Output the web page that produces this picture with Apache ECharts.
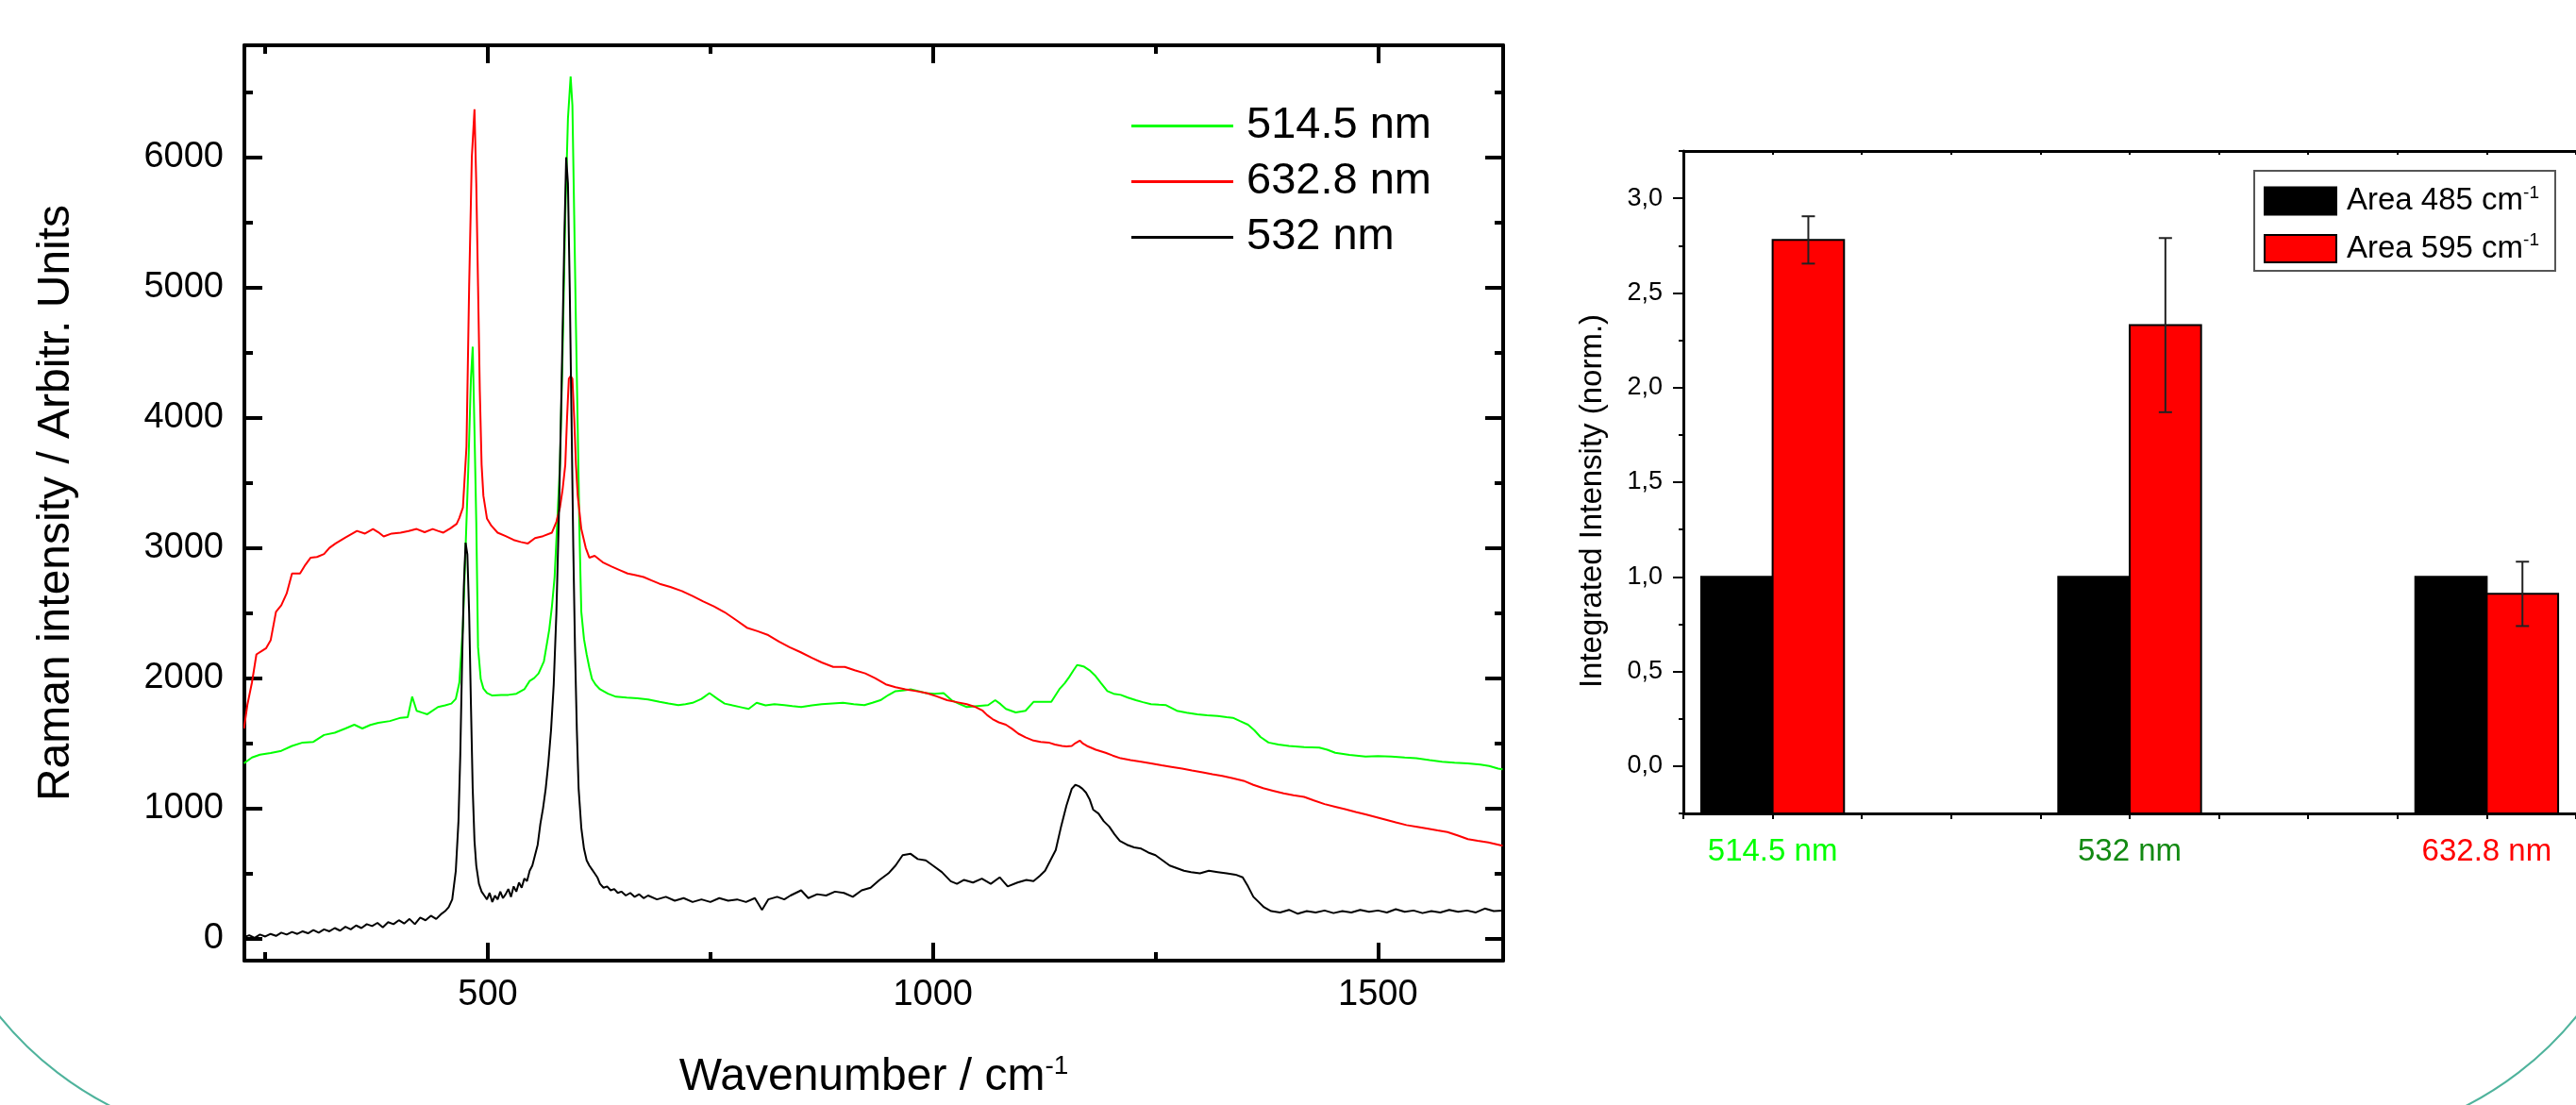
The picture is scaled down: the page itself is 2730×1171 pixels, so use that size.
<!DOCTYPE html>
<html>
<head>
<meta charset="utf-8">
<title>Raman spectra</title>
<script src="https://cdn.jsdelivr.net/npm/echarts@6.0.0/dist/echarts.min.js"></script>
<style>
  html, body { margin: 0; padding: 0; background: #fff; }
  #main { width: 2730px; height: 1171px; }
</style>
</head>
<body>
<div id="main"></div>
<script>
// ---- spectra: [wavenumber, intensity] ----
const spec514 = [
  [226,1345],[235,1390],[244,1412],[256,1425],[268,1441],[280,1479],[292,1505],[304,1510],[316,1563],[328,1580],
  [340,1613],[350,1642],[359,1613],[368,1640],[377,1656],[390,1670],[402,1695],[410,1700],[415,1857],[420,1749],
  [426,1735],[432,1722],[444,1778],[452,1790],[459,1804],[464,1840],[468,1966],[472,2400],[475,3000],[478,3600],
  [481,4300],[483,4545],[485,3900],[487,3200],[489,2237],[492,1993],[495,1920],[499,1885],[505,1866],[515,1870],
  [523,1871],[532,1880],[541,1914],[547,1978],[552,2000],[557,2036],[563,2129],[566,2250],[569,2373],[572,2550],
  [575,2776],[578,3200],[581,3638],[584,4500],[587,5558],[590,6300],[593,6620],[595,6400],[597,5558],[599,4700],
  [601,3914],[603,3100],[605,2509],[608,2300],[611,2182],[614,2080],[617,1993],[621,1950],[626,1914],[635,1880],
  [644,1857],[656,1850],[668,1844],[680,1835],[693,1817],[703,1805],[714,1792],[722,1800],[730,1810],[740,1840],
  [749,1885],[758,1840],[766,1804],[775,1790],[785,1775],[793,1763],[802,1810],[812,1790],[822,1800],[833,1792],
  [842,1785],[852,1778],[864,1790],[875,1800],[887,1805],[899,1810],[911,1800],[923,1792],[932,1810],[941,1830],
  [950,1870],[958,1900],[966,1905],[975,1914],[984,1900],[992,1885],[1002,1880],[1012,1885],[1021,1830],[1030,1800],
  [1038,1778],[1050,1785],[1062,1792],[1070,1830],[1076,1800],[1082,1763],[1093,1736],[1104,1749],[1113,1817],[1123,1817],
  [1133,1817],[1142,1914],[1148,1960],[1153,2007],[1158,2060],[1162,2100],[1166,2095],[1170,2087],[1176,2060],[1182,2021],
  [1189,1960],[1196,1900],[1203,1880],[1211,1871],[1219,1850],[1228,1830],[1236,1815],[1245,1800],[1254,1795],[1262,1792],
  [1274,1749],[1285,1735],[1297,1722],[1308,1715],[1320,1709],[1330,1700],[1337,1695],[1345,1670],[1354,1642],[1361,1600],
  [1368,1548],[1377,1505],[1388,1490],[1400,1479],[1417,1470],[1434,1466],[1443,1450],[1452,1426],[1468,1410],[1486,1398],
  [1500,1400],[1515,1398],[1530,1390],[1543,1384],[1558,1370],[1572,1358],[1586,1350],[1601,1344],[1615,1335],[1625,1325],
  [1635,1305],[1640,1300]
];

const spec633 = [
  [226,1613],[230,1800],[235,1966],[240,2182],[246,2208],[251,2230],[256,2290],[262,2509],[268,2559],[274,2650],
  [280,2803],[289,2803],[295,2870],[301,2925],[308,2930],[316,2953],[322,3000],[329,3034],[340,3080],[353,3130],
  [362,3110],[371,3145],[377,3120],[383,3088],[392,3110],[402,3117],[411,3130],[420,3145],[429,3120],[438,3145],
  [444,3130],[450,3117],[458,3150],[465,3185],[468,3230],[472,3310],[476,3776],[479,5010],[482,6000],[485,6368],
  [487,5800],[489,5010],[491,4200],[493,3638],[495,3400],[499,3226],[504,3170],[511,3117],[520,3090],[529,3061],
  [537,3045],[545,3034],[553,3075],[562,3090],[572,3117],[577,3200],[581,3310],[584,3450],[587,3638],[589,4000],
  [591,4300],[593,4320],[595,4300],[597,4000],[599,3638],[601,3400],[605,3145],[610,3000],[614,2925],[620,2939],
  [629,2890],[639,2857],[648,2830],[657,2803],[666,2790],[675,2776],[684,2750],[693,2724],[705,2700],[718,2668],
  [730,2630],[742,2588],[754,2550],[766,2506],[778,2450],[791,2387],[803,2360],[815,2330],[827,2280],[839,2237],
  [851,2200],[864,2155],[875,2120],[888,2086],[901,2086],[912,2060],[924,2036],[935,2000],[947,1952],[958,1930],
  [969,1914],[981,1900],[993,1885],[1004,1860],[1016,1830],[1027,1815],[1038,1800],[1047,1780],[1056,1749],[1061,1715],
  [1067,1685],[1074,1660],[1082,1642],[1089,1610],[1096,1573],[1104,1545],[1113,1520],[1121,1510],[1130,1505],[1137,1490],
  [1145,1479],[1150,1475],[1156,1479],[1160,1500],[1165,1520],[1168,1500],[1173,1479],[1183,1450],[1194,1426],[1202,1405],
  [1211,1384],[1222,1370],[1234,1358],[1245,1345],[1257,1330],[1268,1318],[1280,1305],[1291,1290],[1303,1276],[1314,1262],
  [1325,1249],[1337,1230],[1349,1211],[1360,1180],[1371,1154],[1382,1135],[1394,1114],[1405,1100],[1417,1087],[1428,1060],
  [1440,1032],[1452,1012],[1463,993],[1475,972],[1486,953],[1498,932],[1509,912],[1520,892],[1532,871],[1544,858],
  [1555,845],[1567,830],[1578,817],[1590,790],[1601,763],[1612,750],[1624,738],[1632,725],[1640,712]
];

const spec532 = [
  [226,10],[232,25],[238,5],[244,30],[250,15],[256,35],[262,20],[268,45],[274,30],[280,50],
  [286,35],[292,55],[298,40],[304,65],[310,45],[316,70],[322,55],[328,80],[334,60],[340,90],
  [346,70],[352,100],[358,80],[364,110],[370,95],[376,120],[382,85],[388,125],[394,110],[400,140],
  [406,115],[412,150],[418,110],[424,160],[430,140],[436,175],[442,150],[448,190],[452,210],[456,240],
  [460,300],[464,520],[467,900],[469,1400],[471,2100],[473,2700],[475,3040],[477,2950],[479,2500],[481,1800],
  [483,1150],[485,750],[487,560],[490,420],[493,360],[496,330],[499,300],[502,350],[505,280],[508,330],
  [511,300],[514,360],[517,310],[520,340],[523,380],[526,320],[529,400],[532,360],[535,430],[538,390],
  [541,460],[544,440],[547,520],[550,560],[553,640],[556,720],[559,880],[562,1000],[565,1150],[568,1350],
  [571,1600],[574,1950],[577,2500],[580,3300],[583,4300],[586,5400],[588,6000],[590,5800],[592,5000],[594,4000],
  [596,3000],[598,2200],[600,1600],[602,1150],[605,850],[608,690],[611,600],[614,560],[617,530],[620,500],
  [623,470],[626,420],[630,390],[634,400],[638,370],[642,380],[646,350],[650,360],[655,330],[660,350],
  [665,320],[670,340],[675,310],[680,330],[690,300],[700,320],[710,290],[720,310],[730,280],[740,300],
  [750,280],[760,310],[770,290],[780,300],[790,280],[800,310],[808,220],[815,300],[825,320],[833,300],
  [840,330],[852,370],[860,310],[870,340],[880,330],[890,360],[900,350],[910,320],[920,370],[930,390],
  [940,450],[950,500],[958,560],[966,640],[975,650],[983,610],[992,600],[1000,560],[1010,510],[1020,440],
  [1027,420],[1035,450],[1045,430],[1055,460],[1065,420],[1075,470],[1084,400],[1095,430],[1105,450],[1113,440],
  [1120,480],[1126,520],[1132,600],[1138,680],[1144,860],[1150,1020],[1156,1150],[1160,1180],[1164,1170],[1168,1150],
  [1172,1120],[1176,1070],[1180,990],[1186,960],[1192,900],[1198,860],[1204,800],[1210,750],[1218,720],[1226,700],
  [1234,690],[1242,660],[1250,640],[1258,600],[1266,560],[1274,540],[1282,520],[1290,510],[1300,500],[1310,520],
  [1320,510],[1330,500],[1340,490],[1348,470],[1354,400],[1360,320],[1366,280],[1372,240],[1380,210],[1390,200],
  [1400,220],[1410,190],[1420,210],[1430,200],[1440,215],[1450,195],[1460,210],[1470,200],[1480,220],[1490,205],
  [1500,215],[1510,200],[1520,225],[1530,205],[1540,215],[1550,195],[1560,210],[1570,200],[1580,220],[1590,205],
  [1600,215],[1610,200],[1620,230],[1630,210],[1640,215]
];

const specNames = ['514.5 nm', '632.8 nm', '532 nm'];
const specColors = ['#00ff00', '#ff0000', '#000000'];

// left chart axes
const xMinL = 226.5, xMaxL = 1640.6;
const yMinL = -170, yMaxL = 6860;
const xMajorL = [500, 1000, 1500];
const xMinorL = [250, 750, 1250];
const yMajorL = [0, 1000, 2000, 3000, 4000, 5000, 6000];
const yMinorL = [500, 1500, 2500, 3500, 4500, 5500, 6500];

// ---- bar chart ----
const barPos = [1, 2, 3];
const barLabels = ['514.5 nm', '532 nm', '632.8 nm'];
const barLabelColors = ['#00ff00', '#138a13', '#ff0000'];
const area485 = [1.0, 1.0, 1.0];
const area595 = [2.78, 2.33, 0.91];
const area595Err = [0.125, 0.46, 0.17];
const areaNames = ['Area 485 cm', 'Area 595 cm'];
const yMajorR = [0, 0.5, 1.0, 1.5, 2.0, 2.5, 3.0];
const xMinR = 0.75, xMaxR = 3.25, yMinR = -0.25, yMaxR = 3.25;

const FONT = 'Liberation Sans, Arial, sans-serif';
const BAR_SPAN = 0.2;

function frameAxis(extra) {
  const lw = extra.lw || 4;
  const ax = {
    type: 'value',
    axisLine: { show: extra.line !== false, onZero: false, lineStyle: { color: '#000', width: lw } },
    axisTick: {
      show: true, inside: extra.inside !== false, length: extra.tickLen,
      lineStyle: { color: '#000', width: extra.tickW || lw }
    },
    axisLabel: { show: false },
    splitLine: { show: false }
  };
  if (extra.ticks) ax.axisTick.customValues = extra.ticks;
  delete extra.lw; delete extra.line; delete extra.inside; delete extra.tickLen; delete extra.ticks; delete extra.tickW;
  return Object.assign(ax, extra);
}

const chart = echarts.init(document.getElementById('main'), null, { renderer: 'canvas' });

const xAxes = [
  // left chart
  Object.assign(frameAxis({ gridIndex: 0, position: 'bottom', min: xMinL, max: xMaxL, ticks: xMajorL, tickLen: 19 }), {
    axisLabel: {
      show: true, customValues: xMajorL, margin: 18, fontSize: 38, color: '#000', fontFamily: FONT,
      formatter: v => String(v)
    },
    name: '{a|Wavenumber / cm}{s|-1}',
    nameLocation: 'middle',
    nameGap: 98,
    nameTextStyle: {
      fontFamily: FONT, color: '#000',
      rich: {
        a: { fontSize: 48, fontFamily: FONT, color: '#000', lineHeight: 52 },
        s: { fontSize: 28, fontFamily: FONT, color: '#000', verticalAlign: 'top', lineHeight: 26 }
      }
    }
  }),
  frameAxis({ gridIndex: 0, position: 'bottom', min: xMinL, max: xMaxL, ticks: xMinorL, tickLen: 9, line: false }),
  frameAxis({ gridIndex: 0, position: 'top', min: xMinL, max: xMaxL, ticks: xMajorL, tickLen: 19 }),
  frameAxis({ gridIndex: 0, position: 'top', min: xMinL, max: xMaxL, ticks: xMinorL, tickLen: 9, line: false }),
  // bar chart
  Object.assign(frameAxis({ gridIndex: 1, position: 'bottom', min: xMinR, max: xMaxR, interval: 0.25, tickLen: 6, inside: false, lw: 3, tickW: 2 }), {
    axisLabel: {
      show: true, customValues: barPos, margin: 24, fontSize: 33, fontFamily: FONT,
      formatter: v => {
        const i = barPos.indexOf(v);
        return i < 0 ? '' : '{c' + i + '|' + barLabels[i] + '}';
      },
      rich: {
        c0: { color: barLabelColors[0], fontSize: 33, fontFamily: FONT },
        c1: { color: barLabelColors[1], fontSize: 33, fontFamily: FONT },
        c2: { color: barLabelColors[2], fontSize: 33, fontFamily: FONT }
      }
    }
  }),
  frameAxis({ gridIndex: 1, position: 'top', min: xMinR, max: xMaxR, interval: 0.25, tickLen: 4, lw: 3, tickW: 2 })
];

const yAxes = [
  Object.assign(frameAxis({ gridIndex: 0, position: 'left', min: yMinL, max: yMaxL, ticks: yMajorL, tickLen: 19 }), {
    axisLabel: {
      show: true, customValues: yMajorL, margin: 22, fontSize: 38, color: '#000', fontFamily: FONT,
      formatter: v => String(v)
    },
    name: 'Raman intensity / Arbitr. Units',
    nameLocation: 'middle',
    nameGap: 175,
    nameTextStyle: { fontSize: 48, fontFamily: FONT, color: '#000' }
  }),
  frameAxis({ gridIndex: 0, position: 'left', min: yMinL, max: yMaxL, ticks: yMinorL, tickLen: 9, line: false }),
  frameAxis({ gridIndex: 0, position: 'right', min: yMinL, max: yMaxL, ticks: yMajorL, tickLen: 19 }),
  frameAxis({ gridIndex: 0, position: 'right', min: yMinL, max: yMaxL, ticks: yMinorL, tickLen: 9, line: false }),
  Object.assign(frameAxis({ gridIndex: 1, position: 'left', min: yMinR, max: yMaxR, ticks: yMajorR, tickLen: 11, inside: false, lw: 3, tickW: 2 }), {
    axisLabel: {
      show: true, customValues: yMajorR, margin: 22, fontSize: 27, color: '#000', fontFamily: FONT,
      formatter: v => v.toFixed(1).replace('.', ',')
    },
    name: 'Integrated Intensity (norm.)',
    nameLocation: 'middle',
    nameGap: 80,
    nameTextStyle: { fontSize: 33, fontFamily: FONT, color: '#000', padding: [0, 40, 0, 0] }
  }),
  frameAxis({ gridIndex: 1, position: 'left', min: yMinR, max: yMaxR, interval: 0.25, tickLen: 5, inside: false, line: false, lw: 3, tickW: 2 })
];

function barRenderer(offset) {
  return function (params, api) {
    const x = api.value(0), v = api.value(1);
    const tl = api.coord([x + offset, v]);
    const br = api.coord([x + offset + BAR_SPAN, yMinR]);
    return {
      type: 'rect',
      shape: { x: tl[0], y: tl[1], width: br[0] - tl[0], height: br[1] - tl[1] },
      style: { fill: api.visual('color'), stroke: '#000', lineWidth: 2 }
    };
  };
}

function errRenderer(params, api) {
  const x = api.value(0) + BAR_SPAN / 2, v = api.value(1), e = api.value(2);
  const hi = api.coord([x, v + e]);
  const lo = api.coord([x, v - e]);
  const cap = 7;
  const st = { stroke: '#222', lineWidth: 2 };
  return {
    type: 'group',
    children: [
      { type: 'line', shape: { x1: hi[0], y1: hi[1], x2: lo[0], y2: lo[1] }, style: st },
      { type: 'line', shape: { x1: hi[0] - cap, y1: hi[1], x2: hi[0] + cap, y2: hi[1] }, style: st },
      { type: 'line', shape: { x1: lo[0] - cap, y1: lo[1], x2: lo[0] + cap, y2: lo[1] }, style: st }
    ]
  };
}

const lineSeries = [spec514, spec633, spec532].map((d, i) => ({
  name: specNames[i],
  type: 'line',
  xAxisIndex: 0,
  yAxisIndex: 0,
  data: d,
  showSymbol: false,
  symbol: 'none',
  lineStyle: { color: specColors[i], width: 2 },
  itemStyle: { color: specColors[i] },
  z: 3 + i
}));

const option = {
  animation: false,
  backgroundColor: '#fff',
  textStyle: { fontFamily: FONT },
  grid: [
    { left: 259, top: 48, width: 1334, height: 981 },
    { left: 1784, top: 160, width: 957, height: 702 }
  ],
  xAxis: xAxes,
  yAxis: yAxes,
  legend: [
    {
      data: specNames,
      orient: 'vertical',
      left: 1199,
      top: 110,
      icon: 'rect',
      itemWidth: 108,
      itemHeight: 3,
      itemGap: 12,
      padding: 0,
      textStyle: { fontSize: 47, fontFamily: FONT, color: '#000', padding: [0, 0, 0, 9] }
    },
    {
      data: [
        { name: areaNames[0], itemStyle: { color: '#000', borderColor: '#000', borderWidth: 2 } },
        { name: areaNames[1], itemStyle: { color: '#ff0000', borderColor: '#000', borderWidth: 2 } }
      ],
      orient: 'vertical',
      left: 2389,
      top: 181,
      icon: 'rect',
      itemWidth: 76,
      itemHeight: 29,
      itemGap: 16,
      padding: [14, 17, 7, 10],
      borderColor: '#555',
      borderWidth: 2,
      formatter: n => '{a|' + n + '}{s|-1}',
      textStyle: {
        fontFamily: FONT, color: '#000', padding: [0, 0, 0, 6],
        rich: {
          a: { fontSize: 33, fontFamily: FONT, color: '#000', lineHeight: 36 },
          s: { fontSize: 19, fontFamily: FONT, color: '#000', verticalAlign: 'top', lineHeight: 20 }
        }
      }
    }
  ],
  graphic: [
    {
      type: 'arc', silent: true, z: -10,
      shape: { cx: 283, cy: 847, r: 365, startAngle: 1.9, endAngle: 2.55 },
      style: { stroke: '#4fb39c', fill: null, lineWidth: 2 }
    },
    {
      type: 'arc', silent: true, z: -10,
      shape: { cx: 2447, cy: 847, r: 365, startAngle: Math.PI - 2.55, endAngle: Math.PI - 1.9 },
      style: { stroke: '#4fb39c', fill: null, lineWidth: 2 }
    }
  ],
  series: lineSeries.concat([
    {
      name: areaNames[0],
      type: 'custom',
      xAxisIndex: 4,
      yAxisIndex: 4,
      itemStyle: { color: '#000' },
      renderItem: barRenderer(-BAR_SPAN),
      data: barPos.map((x, i) => [x, area485[i]])
    },
    {
      name: areaNames[1],
      type: 'custom',
      xAxisIndex: 4,
      yAxisIndex: 4,
      itemStyle: { color: '#ff0000' },
      renderItem: barRenderer(0),
      data: barPos.map((x, i) => [x, area595[i]])
    },
    {
      name: 'err595',
      type: 'custom',
      xAxisIndex: 4,
      yAxisIndex: 4,
      z: 5,
      renderItem: errRenderer,
      data: barPos.map((x, i) => [x, area595[i], area595Err[i]])
    }
  ])
};

chart.setOption(option);
</script>
</body>
</html>
